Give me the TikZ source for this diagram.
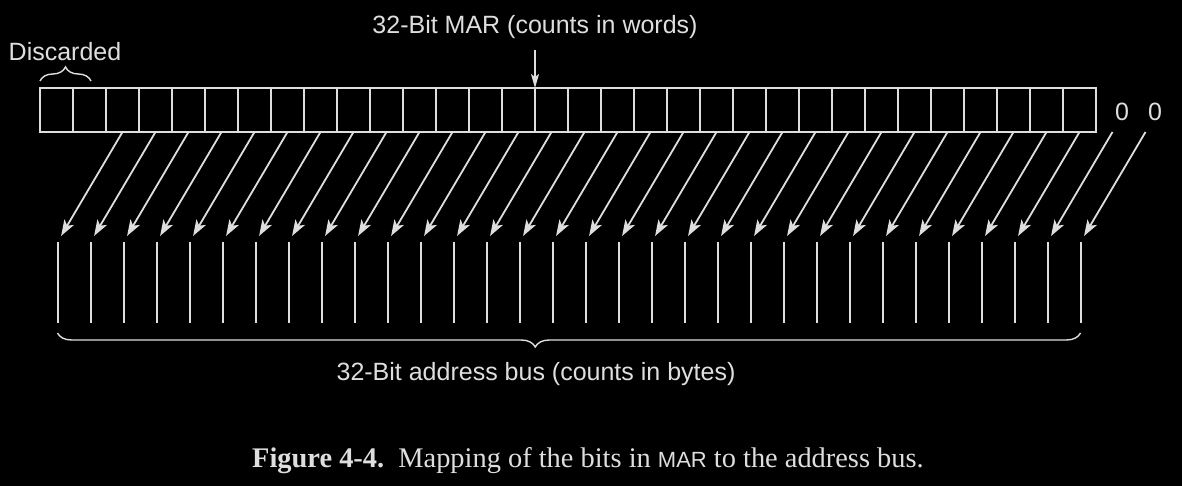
\documentclass[tikz,border=0pt]{standalone}
\usepackage{fontspec}
\setmainfont{Liberation Serif}
\setsansfont{Liberation Sans}
\usetikzlibrary{arrows.meta, positioning, decorations.pathreplacing, calc}
\definecolor{wiregray}{RGB}{222,222,222}

\begin{document}
\begin{tikzpicture}[x=0.5pt, y=-0.5pt,
    bit/.style={draw=wiregray, line width=1pt, minimum width=16.5pt,
                minimum height=22pt, inner sep=0pt, outer sep=0pt},
    lbl/.style={text=wiregray, inner sep=0pt, font=\sffamily\fontsize{12.5}{15}\selectfont},
    arr/.style={-{Stealth[length=8pt, width=5.5pt, inset=2pt]}, draw=wiregray,
                fill=wiregray, line width=0.9pt},
    wire/.style={draw=wiregray, line width=1pt},
    brc/.style={decorate, decoration={brace, amplitude=7pt}, draw=wiregray, line width=0.7pt}
  ]
    \fill[black] (0,0) rectangle (1182,486);
    \useasboundingbox (0,0) rectangle (1182,486);

    % MAR register, 32 cells
    \foreach \i in {0,...,31}
      \node[bit] (c\i) at ({56.5+33*\i},110) {};

    % two zeros shifted in at the right
    \node[lbl] (zeroA) at (1122,112) {0};
    \node[lbl] (zeroB) at (1155,112) {0};
    \coordinate (c32s) at (1112.5,132);
    \coordinate (c33s) at (1145.5,132);

    % address bus lines
    \foreach \k in {0,...,31} {
      \coordinate (bt\k) at ({57.5+33*\k},242);
      \coordinate (bb\k) at ({57.5+33*\k},323);
      \draw[wire] (bt\k) -- (bb\k);
    }

    % bit mapping arrows
    \foreach \i [evaluate=\i as \k using int(\i-2)] in {2,...,31}
      \draw[arr, shorten >=3.5pt] (c\i.south) -- (bt\k);
    \draw[arr, shorten >=3.5pt] (c32s) -- (bt30);
    \draw[arr, shorten >=3.5pt] (c33s) -- (bt31);

    % labels and braces
    \node[lbl] (discard) at (65,52) {Discarded};
    \coordinate (dl) at ($(c0.north west)+(0,-7)$);
    \coordinate (dr) at ($(c1.north)+(1.5,-7)$);
    \draw[brc] (dl) -- (dr);

    \node[lbl] (marlbl) at (535,27) {32-Bit MAR (counts in words)};
    \coordinate (mtop) at ($(c15.north west)+(0,-38)$);
    \draw[arr, line width=0.7pt, -{Stealth[length=7pt, width=4pt, inset=1.5pt]}] (mtop) -- (c15.north west);

    \draw[brc, decoration={mirror, aspect=0.467}] ($(bb0)+(0,10)$) -- ($(bb31)+(0,10)$);
    \node[lbl] (buslbl) at (536,374) {32-Bit address bus (counts in bytes)};

    \node[text=wiregray, font=\fontsize{14.2}{17}\selectfont] (caption) at (588,461)
      {\textbf{Figure 4-4.}\enspace Mapping of the bits in {\sffamily\fontsize{11}{12}\selectfont MAR} to the address bus.};
\end{tikzpicture}
\end{document}
